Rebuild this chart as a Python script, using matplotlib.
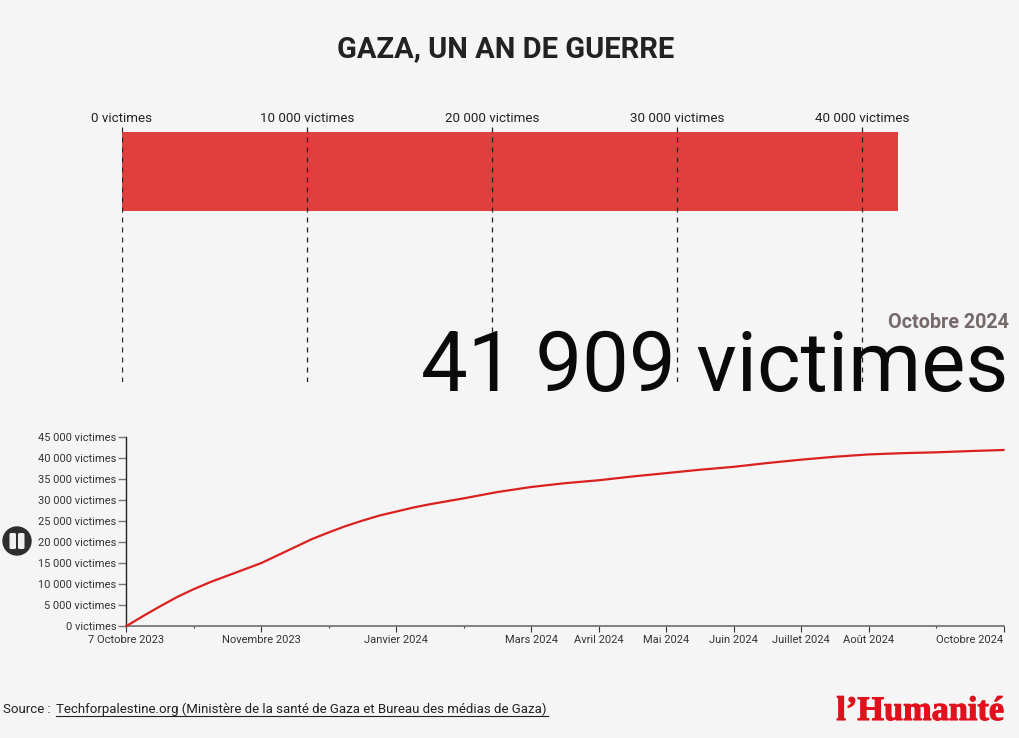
import matplotlib
matplotlib.use('Agg')
import matplotlib.pyplot as plt
import matplotlib.patheffects as pe
from matplotlib.lines import Line2D
from matplotlib.patches import Circle, FancyBboxPatch

W, H = 1020, 738
BG = '#f5f5f5'
plt.rcParams['font.family'] = ['Roboto', 'DejaVu Sans']

# total
total_victimes = 41909
bar_ticks = [0, 10000, 20000, 30000, 40000]
bar_labels = ['0 victimes', '10 000 victimes', '20 000 victimes', '30 000 victimes', '40 000 victimes']

# courbe, position = rang sur l'axe des dates
rang = [0, 0.25, 0.5, 0.75, 1, 1.25, 1.5, 1.75, 2, 2.25, 2.5, 2.75, 3, 3.25, 3.5, 3.75, 4, 4.25,
        4.5, 5, 5.5, 6, 6.5, 7, 7.5, 8, 8.5, 9, 9.5, 10, 10.5, 11, 11.5, 12, 12.5, 13]
victimes = [0, 2400, 4700, 6900, 8800, 10500, 12000, 13500, 15000, 16900, 18800, 20700, 22300,
            23800, 25100, 26300, 27250, 28200, 29000, 30400, 31900, 33100, 34000, 34700, 35600,
            36400, 37200, 37900, 38800, 39600, 40300, 40850, 41150, 41350, 41650, 41909]

x_ticks = list(range(14))
x_labels = ['7 Octobre 2023', '', 'Novembre 2023', '', 'Janvier 2024', '', 'Mars 2024', 'Avril 2024',
            'Mai 2024', 'Juin 2024', 'Juillet 2024', 'Août 2024', '', 'Octobre 2024']
y_ticks = [0, 5000, 10000, 15000, 20000, 25000, 30000, 35000, 40000, 45000]
y_labels = ['0 victimes', '5 000 victimes', '10 000 victimes', '15 000 victimes', '20 000 victimes',
            '25 000 victimes', '30 000 victimes', '35 000 victimes', '40 000 victimes', '45 000 victimes']


def box(x0, y0, x1, y1):
    # rectangle en pixels, origine en haut a gauche
    return [x0 / W, 1 - y1 / H, (x1 - x0) / W, (y1 - y0) / H]


def txt(x, y, s, va='center', **kw):
    return fig.text(x / W, 1 - y / H, s, va=va, **kw)


fig = plt.figure(figsize=(W / 100, H / 100), dpi=100, facecolor=BG)

# barre du haut
ax = fig.add_axes(box(122, 123, 954.9, 382))
ax.axis('off')
ax.barh(0, total_victimes, height=1, color='#df403e', zorder=1)
ax.set_xlim(0, 45000)
ax.set_ylim((382 - 171.5) / 79, -(171.5 - 123) / 79)
ax.vlines(bar_ticks, 0, 1, transform=ax.get_xaxis_transform(), color='#222222', lw=0.9,
          linestyles=(0, (4, 4)), zorder=2)
for v, lab in zip(bar_ticks, bar_labels):
    ax.annotate(lab, (v, 1), xycoords=ax.get_xaxis_transform(), xytext=(0, -1.5),
                textcoords='offset points', ha='center', va='bottom', fontsize=9.6, color='#222222')

# courbe
ax2 = fig.add_axes(box(126.5, 437, 1003.5, 626))
ax2.set_facecolor('none')
ax2.plot(rang, victimes, color='#d9211f', lw=1.6, solid_joinstyle='round', clip_on=False, zorder=3)
ax2.set_xlim(0, 13)
ax2.set_ylim(0, 45000)
for s in ['top', 'right']:
    ax2.spines[s].set_visible(False)
ax2.spines['left'].set_color('#222222')
ax2.spines['left'].set_linewidth(1)
ax2.spines['bottom'].set_color('#777777')
ax2.spines['bottom'].set_linewidth(1.3)
ax2.set_yticks(y_ticks)
ax2.set_yticklabels(y_labels, fontsize=7.9, color='#333333')
ax2.set_xticks(x_ticks)
ax2.set_xticklabels(x_labels, fontsize=8, color='#333333')
ax2.tick_params(axis='y', length=5.5, width=1, color='#777777', pad=1.8)
ax2.tick_params(axis='x', length=4, width=0.8, color='#333333', pad=2.2)
ax2.yaxis.get_major_ticks()[-1].tick1line.set_color('#222222')
for i, lab in enumerate(x_labels):
    if lab == '':
        ax2.xaxis.get_major_ticks()[i].tick1line.set_markersize(1.5)
ax2.get_xticklabels()[-1].set_ha('right')

# textes
txt(506, 49, 'GAZA, UN AN DE GUERRE', ha='center', fontsize=21, fontweight='bold', color='#222222')
txt(1009, 322, 'Octobre 2024', ha='right', fontsize=14.2, fontweight='bold', color='#75696a')
txt(1008, 391, '41 909 victimes', va='baseline', ha='right', fontsize=60, color='#0a0a0a')
txt(3, 709.5, 'Source :', ha='left', fontsize=9.5, color='#222222')
txt(56, 709.5, 'Techforpalestine.org (Ministère de la santé de Gaza et Bureau des médias de Gaza)',
    ha='left', fontsize=9.5, color='#222222')
fig.add_artist(Line2D([56 / W, 548 / W], [1 - 716 / H] * 2, color='#222222', lw=0.8))
logo = txt(1004, 720, "l’Humanité", va='baseline', ha='right', fontsize=24.7, fontweight='bold',
           color='#e0101c', family=['Liberation Serif'])
logo.set_path_effects([pe.withStroke(linewidth=0.8, foreground='#e0101c')])

# bouton pause
ax3 = fig.add_axes(box(0, 520, 60, 560))
ax3.axis('off')
ax3.set_xlim(0, 60)
ax3.set_ylim(560, 520)
ax3.add_patch(Circle((17, 541), 14, color='#2e2e2e'))
for x0 in [9.5, 18]:
    ax3.add_patch(FancyBboxPatch((x0, 533), 6.5, 16, boxstyle='round,pad=0,rounding_size=1.5',
                                 fc='#f0f0f0', ec='none'))

fig.savefig('out.png', dpi=100, facecolor=BG)
